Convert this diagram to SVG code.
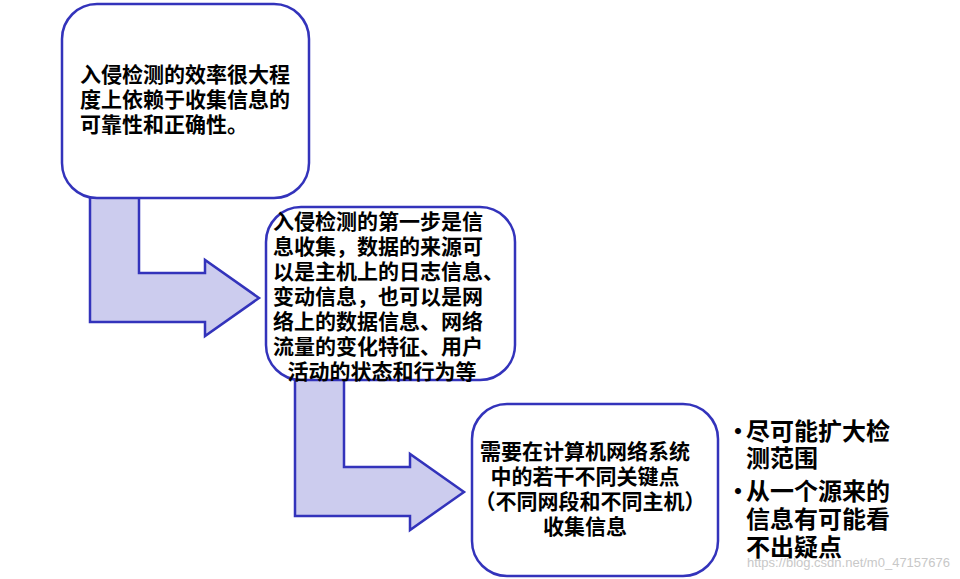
<svg xmlns="http://www.w3.org/2000/svg" width="960" height="579" viewBox="0 0 960 579">
<style>
.box{fill:#fff;stroke:#3333bb;stroke-width:2.5}
.arr{fill:#ccccee;stroke:#3333bb;stroke-width:2.5;stroke-linejoin:miter}
text{font-family:"Noto Sans CJK SC","Liberation Sans",sans-serif;font-weight:bold;fill:#000}
.t{font-size:21px}
.b{font-size:24px}
</style>
<rect width="960" height="579" fill="#fff"/>
<g id="connectors">
<path class="arr" d="M90,197 L139,197 L139,273 L205,273 L205,260 L259,298 L205,336 L205,322 L90,322 Z"/>
<path class="arr" d="M295,379 L344,379 L344,467 L410,467 L410,454 L464,492 L410,530 L410,516 L295,516 Z"/>
</g>
<g id="node1">
<rect class="box" x="62" y="4" width="247" height="194" rx="35"/>
<text class="t" x="80" y="82">入侵检测的效率很大程</text>
<text class="t" x="80" y="107">度上依赖于收集信息的</text>
<text class="t" x="80" y="132">可靠性和正确性。</text>
</g>
<g id="node2">
<rect class="box" x="266" y="207" width="249" height="173" rx="35"/>
<text class="t" x="273" y="229">入侵检测的第一步是信</text>
<text class="t" x="273" y="254">息收集，数据的来源可</text>
<text class="t" x="273" y="279">以是主机上的日志信息、</text>
<text class="t" x="273" y="304">变动信息，也可以是网</text>
<text class="t" x="273" y="329">络上的数据信息、网络</text>
<text class="t" x="273" y="354">流量的变化特征、用户</text>
<text class="t" x="382" y="379" text-anchor="middle">活动的状态和行为等</text>
</g>
<g id="node3">
<rect class="box" x="472" y="404" width="246" height="172" rx="35"/>
<text class="t" x="585" y="459" text-anchor="middle">需要在计算机网络系统</text>
<text class="t" x="585" y="484" text-anchor="middle">中的若干不同关键点</text>
<text class="t" x="590" y="509" text-anchor="middle">（不同网段和不同主机）</text>
<text class="t" x="585" y="534" text-anchor="middle">收集信息</text>
</g>
<g id="bullets">
<text class="b" x="726" y="440">•</text>
<text class="b" x="746" y="440">尽可能扩大检</text>
<text class="b" x="746" y="467">测范围</text>
<text class="b" x="726" y="500">•</text>
<text class="b" x="746" y="500">从一个源来的</text>
<text class="b" x="746" y="528">信息有可能看</text>
<text class="b" x="746" y="556">不出疑点</text>
</g>
<text x="950" y="567" text-anchor="end" style="font-family:'Liberation Sans',sans-serif;font-weight:normal;font-size:13px;fill:#c8c8c8">https://blog.csdn.net/m0_47157676</text>
</svg>
